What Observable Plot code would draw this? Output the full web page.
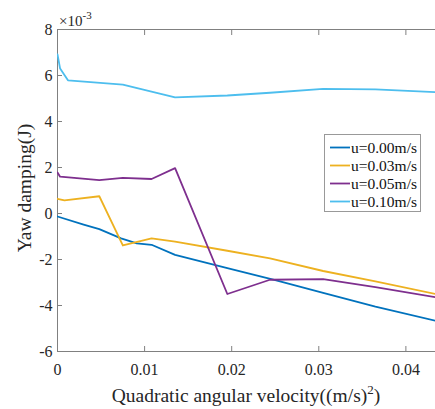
<!DOCTYPE html>
<html><head><meta charset="utf-8">
<script src="https://cdn.jsdelivr.net/npm/d3@7"></script>
<script src="https://cdn.jsdelivr.net/npm/@observablehq/plot@0.6"></script>
<style>body{margin:0;background:#fff}</style>
</head><body>
<div id="chart"></div>
<script>
const seriesNames = ["u=0.00m/s", "u=0.03m/s", "u=0.05m/s", "u=0.10m/s"];
const seriesColors = ["#0072BD", "#EDB120", "#7E2F8E", "#4DBEEE"];

const x000 = [0, 0.003, 0.0048, 0.0073, 0.0091, 0.0108, 0.0135, 0.0195, 0.025, 0.0305, 0.0365, 0.0434];
const y000 = [-0.13, -0.48, -0.68, -1.08, -1.3, -1.36, -1.8, -2.37, -2.9, -3.45, -4.05, -4.66];

const x003 = [0, 0.0008, 0.0048, 0.0075, 0.0108, 0.0135, 0.0195, 0.0244, 0.0305, 0.0365, 0.0434];
const y003 = [0.64, 0.57, 0.75, -1.39, -1.08, -1.22, -1.62, -1.95, -2.5, -2.95, -3.5];

const x005 = [0, 0.0003, 0.0048, 0.0075, 0.0108, 0.0135, 0.0195, 0.0244, 0.0305, 0.0365, 0.0434];
const y005 = [1.78, 1.6, 1.45, 1.55, 1.5, 1.97, -3.5, -2.88, -2.85, -3.2, -3.64];

const x010 = [0, 0.0003, 0.0012, 0.0075, 0.0135, 0.0195, 0.0244, 0.0305, 0.0365, 0.0434];
const y010 = [6.92, 6.3, 5.79, 5.6, 5.05, 5.13, 5.25, 5.42, 5.4, 5.28];

const xTicks = [0, 0.01, 0.02, 0.03, 0.04];
const xTickLabels = ["0", "0.01", "0.02", "0.03", "0.04"];
const yTicks = [-6, -4, -2, 0, 2, 4, 6, 8];
const xDomain = [0, 0.0434];
const yDomain = [-6, 8];
const xLabel = "Quadratic angular velocity((m/s)";
const yLabel = "Yaw damping(J)";
const exponentLabel = "×10";
const exponentPower = "-3";

const seriesX = [x000, x003, x005, x010];
const seriesY = [y000, y003, y005, y010];
const rows = [];
seriesNames.forEach((name, i) => {
  seriesX[i].forEach((x, j) => rows.push({series: name, x, y: seriesY[i][j]}));
});

const font = "Times New Roman";
const axisColor = "#808080";
const textColor = "#262626";

const chart = Plot.plot({
  width: 435, height: 409,
  marginLeft: 57, marginRight: 0, marginTop: 29, marginBottom: 58,
  style: {fontFamily: font, fontSize: "16px"},
  x: {domain: xDomain},
  y: {domain: yDomain},
  color: {domain: seriesNames, range: seriesColors},
  marks: [
    Plot.ruleY([yDomain[1]], {stroke: axisColor, strokeWidth: 1}),
    Plot.ruleY([yDomain[0]], {stroke: axisColor, strokeWidth: 1}),
    Plot.ruleX([xDomain[0]], {stroke: axisColor, strokeWidth: 1}),
    Plot.axisX({anchor: "bottom", ticks: xTicks, tickSize: -5, tickPadding: 17.5,
      tickFormat: (d) => xTickLabels[xTicks.indexOf(d)], label: null, stroke: axisColor}),
    Plot.axisX({anchor: "top", ticks: xTicks, tickSize: -5, tickFormat: () => "", label: null, stroke: axisColor}),
    Plot.axisY({anchor: "left", ticks: yTicks, tickSize: -5, tickPadding: 10, label: null,
      tickFormat: (d) => String(d), stroke: axisColor}),
    Plot.line(rows, {x: "x", y: "y", z: "series", stroke: "series", strokeWidth: 1.8, clip: true})
  ]
});

const svg = d3.select(chart);
svg.style("color", textColor);
// x label with superscript
const xl = svg.append("text").attr("x", 246).attr("y", 401.5).attr("text-anchor", "middle")
  .attr("font-family", font).attr("font-size", 19.5).attr("fill", textColor);
xl.append("tspan").text(xLabel);
xl.append("tspan").attr("font-size", 13).attr("dy", -8).text("2");
xl.append("tspan").attr("dy", 8).text(")");
// y label
svg.append("text").attr("transform", "translate(31,188) rotate(-90)").attr("text-anchor", "middle")
  .attr("font-family", font).attr("font-size", 19.5).attr("fill", textColor).text(yLabel);
// exponent
const ex = svg.append("text").attr("x", 59).attr("y", 25.5).attr("text-anchor", "start")
  .attr("font-family", font).attr("font-size", 15).attr("fill", textColor);
ex.append("tspan").text(exponentLabel);
ex.append("tspan").attr("font-size", 11).attr("dy", -7).text(exponentPower);
// legend
const lg = svg.append("g");
lg.append("rect").attr("x", 324.5).attr("y", 134.5).attr("width", 96).attr("height", 77)
  .attr("fill", "#fff").attr("stroke", "#999").attr("stroke-width", 1);
seriesNames.forEach((name, i) => {
  const cy = 147.5 + i * 18;
  lg.append("line").attr("x1", 330).attr("x2", 350).attr("y1", cy).attr("y2", cy)
    .attr("stroke", seriesColors[i]).attr("stroke-width", 1.8);
  lg.append("text").attr("x", 351).attr("y", cy).attr("dy", "0.35em").attr("text-anchor", "start")
    .attr("font-family", font).attr("font-size", 15.5).attr("fill", "#111").text(name);
});
document.getElementById("chart").append(chart);
</script>
</body></html>
